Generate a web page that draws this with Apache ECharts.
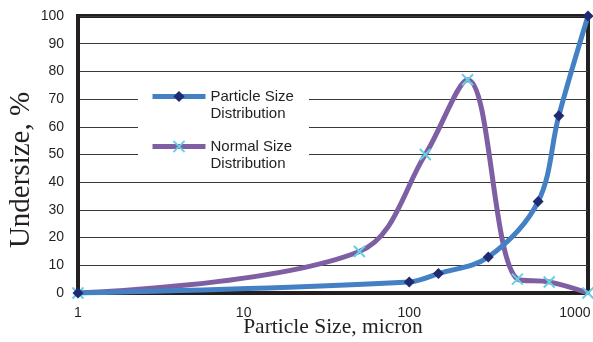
<!DOCTYPE html>
<html>
<head>
<meta charset="utf-8">
<script src="https://cdn.jsdelivr.net/npm/echarts@6/dist/echarts.min.js"></script>
<style>
html,body{margin:0;padding:0;background:#fff;}
#chart{width:593px;height:342px;}
</style>
</head>
<body>
<div id="chart"></div>
<script>
// Data
const psdName = 'Particle Size\nDistribution';
const nsdName = 'Normal Size\nDistribution';
const psdSizes = [1, 100, 150, 300, 600, 800, 1200];
const psdValues = [0, 4, 7, 13, 33, 64, 100];
const nsdSizes = [1, 50, 125, 225, 450, 700, 1200];
const nsdValues = [0, 15, 50, 77, 5, 4, 0];
const xTickLabels = ['1', '10', '100', '1000'];
const yTicks = [0, 10, 20, 30, 40, 50, 60, 70, 80, 90, 100];

const pair = (xs, ys) => xs.map((x, i) => [x, ys[i]]);

const chart = echarts.init(document.getElementById('chart'), null, {renderer: 'canvas'});
const axisColor = '#231f20';
const xPath = 'path://M0,0L10,10M10,0L0,10';

chart.setOption({
  animation: false,
  backgroundColor: '#ffffff',
  grid: {
    left: 78, right: 5, top: 16, bottom: 49,
    containLabel: false, outerBoundsMode: 'none',
    show: true, borderColor: axisColor, borderWidth: 4, backgroundColor: 'transparent'
  },
  graphic: [{
    type: 'rect', z: 3,
    shape: {x: 138, y: 76, width: 171, height: 101},
    style: {fill: '#ffffff'}
  }],
  legend: {
    left: 138, top: 71, orient: 'vertical',
    padding: [0, 0, 0, 12],
    itemWidth: 53, itemHeight: 14, itemGap: -1,
    selectedMode: false, z: 5,
    data: [psdName, nsdName],
    lineStyle: {width: 5},
    formatter: function (name) { return ' \n' + name; },
    textStyle: {
      fontFamily: 'Liberation Sans, Arial, sans-serif', fontSize: 15,
      color: axisColor, lineHeight: 17
    }
  },
  xAxis: {
    type: 'log', logBase: 10, min: 1, max: 1200,
    name: 'Particle Size, micron', nameLocation: 'middle', nameGap: 23, nameMoveOverlap: false,
    nameTextStyle: {fontFamily: 'Liberation Serif, Times New Roman, serif', fontSize: 21.5, color: axisColor},
    axisLine: {show: true, onZero: false, lineStyle: {color: axisColor, width: 4}},
    axisTick: {show: false},
    splitLine: {show: false},
    axisLabel: {
      margin: 13, fontFamily: 'Liberation Sans, Arial, sans-serif', fontSize: 14, color: axisColor,
      formatter: function (v) {
        const s = String(Math.round(v));
        return xTickLabels.indexOf(s) >= 0 ? s : '';
      }
    }
  },
  yAxis: {
    type: 'value', min: yTicks[0], max: yTicks[yTicks.length - 1], interval: yTicks[1] - yTicks[0],
    name: 'Undersize, %', nameLocation: 'middle', nameGap: 42, nameMoveOverlap: false,
    nameTextStyle: {fontFamily: 'Liberation Serif, Times New Roman, serif', fontSize: 29, color: axisColor, padding: [0, 31, 0, 0]},
    axisLine: {show: true, lineStyle: {color: axisColor, width: 4}},
    axisTick: {show: false},
    splitLine: {show: true, lineStyle: {color: '#3a3a3a', width: 1}},
    axisLabel: {margin: 14, fontFamily: 'Liberation Sans, Arial, sans-serif', fontSize: 14, color: axisColor}
  },
  series: [
    {
      name: psdName, type: 'line', data: pair(psdSizes, psdValues),
      smooth: 0.35, smoothConstraint: false,
      symbol: 'diamond', symbolSize: 11, z: 3,
      lineStyle: {color: '#4480c4', width: 5},
      itemStyle: {color: '#1f2a70'}
    },
    {
      name: nsdName, type: 'line', data: pair(nsdSizes, nsdValues),
      smooth: 0.35, smoothConstraint: false,
      symbol: xPath, symbolSize: 11, z: 2,
      lineStyle: {color: '#7e5fa3', width: 5},
      itemStyle: {color: 'transparent', borderColor: '#66d0e4', borderWidth: 2}
    }
  ]
});
</script>
</body>
</html>
